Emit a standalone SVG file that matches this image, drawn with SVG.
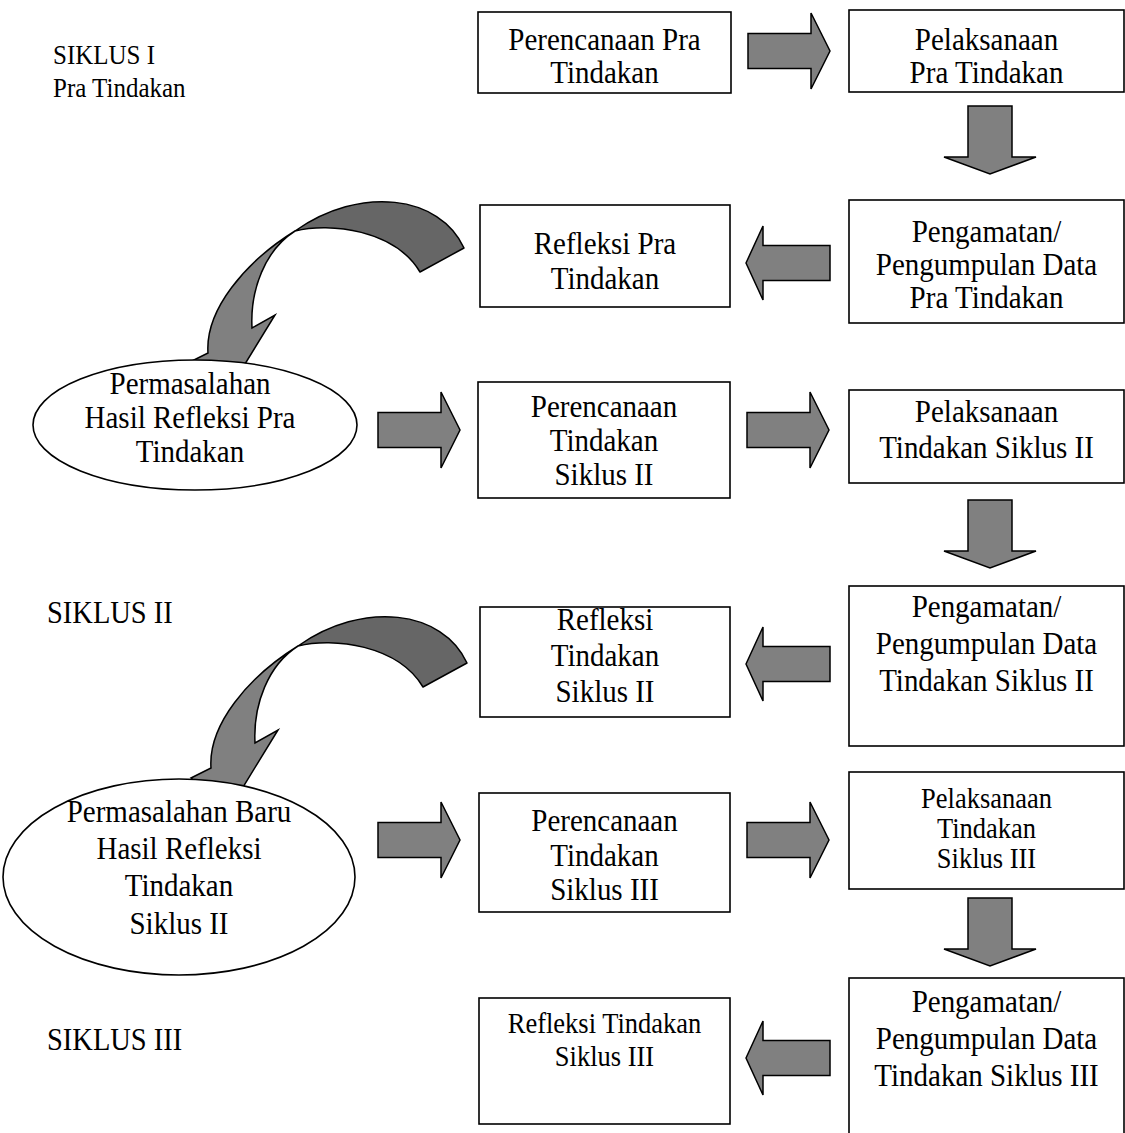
<svg xmlns="http://www.w3.org/2000/svg" xmlns:xlink="http://www.w3.org/1999/xlink" width="1125" height="1133" viewBox="0 0 1125 1133">
<style>
.box{fill:#fff;stroke:#000;stroke-width:1.6}
.ell{fill:#fff;stroke:#000;stroke-width:1.6}
.blk{fill:#808080;stroke:#000;stroke-width:1.5;stroke-linejoin:miter}
.dark{fill:#666;stroke:#000;stroke-width:1.5;stroke-linejoin:round}
.light{fill:#808080;stroke:#000;stroke-width:1.5;stroke-linejoin:miter}
text{font-family:"Liberation Serif","Times New Roman",serif;fill:#000}
.t{font-size:29px;text-anchor:middle}
.ts{font-size:26.5px;text-anchor:middle}
.lbl{font-size:25px}
.lbl2{font-size:28.5px}
</style>
<defs>
<path id="ar" class="blk" d="M0,-17.5 H63 V-38 L82,0 L63,38 V17.5 H0 Z"/>
<path id="al" class="blk" d="M0,0 L17,-37 V-17.5 H84 V17.5 H17 V37 Z"/>
<path id="ad" class="blk" d="M-22,0 H22 V51 H46 L0,68 L-46,51 H-22 Z"/>
<g id="curve">
<path class="dark" d="M464,248 C440,195 360,185 295,231 C330,222 395,230 420,272 Z"/>
<path class="light" d="M295,231 C245,262 205,310 208,353 L188,363 L226,395 L275,315 L252,328 C250,290 265,250 295,231 Z"/>
</g>
</defs>

<g id="connectors">
<use xlink:href="#ar" x="748" y="51"/>
<use xlink:href="#ad" x="990" y="106"/>
<use xlink:href="#al" x="746" y="263"/>
<use xlink:href="#curve"/>
<use xlink:href="#ar" x="378" y="430"/>
<use xlink:href="#ar" x="747" y="430"/>
<use xlink:href="#ad" x="990" y="500"/>
<use xlink:href="#al" x="746" y="664"/>
<use xlink:href="#curve" transform="translate(3,415)"/>
<use xlink:href="#ar" x="378" y="840"/>
<use xlink:href="#ar" x="747" y="840"/>
<use xlink:href="#ad" x="990" y="898"/>
<use xlink:href="#al" x="746" y="1058"/>
</g>

<g id="labels">
<text class="lbl" transform="translate(53 64) scale(1 1.1)">SIKLUS I</text>
<text class="lbl" transform="translate(53 97) scale(1 1.1)">Pra Tindakan</text>
<text class="lbl2" transform="translate(47 623) scale(1 1.1)">SIKLUS II</text>
<text class="lbl2" transform="translate(47 1050) scale(1 1.1)">SIKLUS III</text>
</g>

<g id="n-perencanaan-pra">
<rect class="box" x="478" y="12" width="253" height="81"/>
<text class="t" transform="translate(604.5 50) scale(1 1.1)">Perencanaan Pra</text>
<text class="t" transform="translate(604.5 83) scale(1 1.1)">Tindakan</text>
</g>
<g id="n-pelaksanaan-pra">
<rect class="box" x="849" y="10" width="275" height="82"/>
<text class="t" transform="translate(986.5 50) scale(1 1.1)">Pelaksanaan</text>
<text class="t" transform="translate(986.5 83) scale(1 1.1)">Pra Tindakan</text>
</g>
<g id="n-pengamatan-pra">
<rect class="box" x="849" y="200" width="275" height="123"/>
<text class="t" transform="translate(986.5 242) scale(1 1.1)">Pengamatan/</text>
<text class="t" transform="translate(986.5 275) scale(1 1.1)">Pengumpulan Data</text>
<text class="t" transform="translate(986.5 308) scale(1 1.1)">Pra Tindakan</text>
</g>
<g id="n-refleksi-pra">
<rect class="box" x="480" y="205" width="250" height="102"/>
<text class="t" transform="translate(605 254) scale(1 1.1)">Refleksi Pra</text>
<text class="t" transform="translate(605 289) scale(1 1.1)">Tindakan</text>
</g>
<g id="n-masalah-pra">
<ellipse class="ell" cx="195" cy="425" rx="162" ry="65"/>
<text class="t" transform="translate(190 394) scale(1 1.1)">Permasalahan</text>
<text class="t" transform="translate(190 428) scale(1 1.1)">Hasil Refleksi Pra</text>
<text class="t" transform="translate(190 462) scale(1 1.1)">Tindakan</text>
</g>
<g id="n-perencanaan-2">
<rect class="box" x="478" y="382" width="252" height="116"/>
<text class="t" transform="translate(604 417) scale(1 1.1)">Perencanaan</text>
<text class="t" transform="translate(604 451) scale(1 1.1)">Tindakan</text>
<text class="t" transform="translate(604 485) scale(1 1.1)">Siklus II</text>
</g>
<g id="n-pelaksanaan-2">
<rect class="box" x="849" y="390" width="275" height="93"/>
<text class="t" transform="translate(986.5 422) scale(1 1.1)">Pelaksanaan</text>
<text class="t" transform="translate(986.5 458) scale(1 1.1)">Tindakan Siklus II</text>
</g>
<g id="n-pengamatan-2">
<rect class="box" x="849" y="586" width="275" height="160"/>
<text class="t" transform="translate(986.5 617) scale(1 1.1)">Pengamatan/</text>
<text class="t" transform="translate(986.5 654) scale(1 1.1)">Pengumpulan Data</text>
<text class="t" transform="translate(986.5 691) scale(1 1.1)">Tindakan Siklus II</text>
</g>
<g id="n-refleksi-2">
<rect class="box" x="480" y="607" width="250" height="110"/>
<text class="t" transform="translate(605 630) scale(1 1.1)">Refleksi</text>
<text class="t" transform="translate(605 666) scale(1 1.1)">Tindakan</text>
<text class="t" transform="translate(605 702) scale(1 1.1)">Siklus II</text>
</g>
<g id="n-masalah-2">
<ellipse class="ell" cx="179" cy="877" rx="176" ry="98"/>
<text class="t" transform="translate(179 822) scale(1 1.1)">Permasalahan Baru</text>
<text class="t" transform="translate(179 859) scale(1 1.1)">Hasil Refleksi</text>
<text class="t" transform="translate(179 896) scale(1 1.1)">Tindakan</text>
<text class="t" transform="translate(179 934) scale(1 1.1)">Siklus II</text>
</g>
<g id="n-perencanaan-3">
<rect class="box" x="479" y="793" width="251" height="119"/>
<text class="t" transform="translate(604.5 831) scale(1 1.1)">Perencanaan</text>
<text class="t" transform="translate(604.5 866) scale(1 1.1)">Tindakan</text>
<text class="t" transform="translate(604.5 900) scale(1 1.1)">Siklus III</text>
</g>
<g id="n-pelaksanaan-3">
<rect class="box" x="849" y="772" width="275" height="117"/>
<text class="ts" transform="translate(986.5 808) scale(1 1.1)">Pelaksanaan</text>
<text class="ts" transform="translate(986.5 838) scale(1 1.1)">Tindakan</text>
<text class="ts" transform="translate(986.5 868) scale(1 1.1)">Siklus III</text>
</g>
<g id="n-pengamatan-3">
<rect class="box" x="849" y="978" width="275" height="170"/>
<text class="t" transform="translate(986.5 1012) scale(1 1.1)">Pengamatan/</text>
<text class="t" transform="translate(986.5 1049) scale(1 1.1)">Pengumpulan Data</text>
<text class="t" transform="translate(986.5 1086) scale(1 1.1)">Tindakan Siklus III</text>
</g>
<g id="n-refleksi-3">
<rect class="box" x="479" y="998" width="251" height="126"/>
<text class="ts" transform="translate(604.5 1033) scale(1 1.1)">Refleksi Tindakan</text>
<text class="ts" transform="translate(604.5 1066) scale(1 1.1)">Siklus III</text>
</g>
</svg>
